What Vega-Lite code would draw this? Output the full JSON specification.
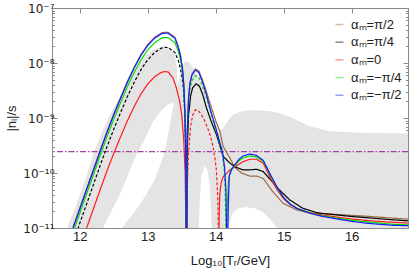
{
"$schema":"https://vega.github.io/schema/vega-lite/v6.json",
"width":356,"height":220,
"autosize":{"type":"none"},
"padding":{"left":52,"top":8,"right":1,"bottom":40},
"config":{"view":{"stroke":"#8a8a8a","strokeWidth":1},"font":"Liberation Sans"},
"datasets":{
"bands":[
{"band":"g1","x":11.81,"lo":1e-11,"hi":1e-11},
{"band":"g1","x":11.93,"lo":1e-11,"hi":2.29e-11},
{"band":"g1","x":12.07,"lo":1e-11,"hi":6.92e-11},
{"band":"g1","x":12.21,"lo":1e-11,"hi":2.40e-10},
{"band":"g1","x":12.34,"lo":1e-11,"hi":6.03e-10},
{"band":"g1","x":12.44,"lo":1.78e-11,"hi":1.12e-9},
{"band":"g1","x":12.59,"lo":4.07e-11,"hi":2.34e-9},
{"band":"g1","x":12.72,"lo":1.00e-10,"hi":4.90e-9},
{"band":"g1","x":12.83,"lo":2.14e-10,"hi":8.32e-9},
{"band":"g1","x":12.95,"lo":3.98e-10,"hi":1.32e-8},
{"band":"g1","x":13.08,"lo":8.71e-10,"hi":1.74e-8},
{"band":"g1","x":13.21,"lo":1.41e-9,"hi":2.00e-8},
{"band":"g1","x":13.29,"lo":1.74e-9,"hi":1.95e-8},
{"band":"g1","x":13.35,"lo":1.86e-9,"hi":1.74e-8},
{"band":"g1","x":13.40,"lo":1.82e-9,"hi":1.35e-8},
{"band":"g1","x":13.43,"lo":1.74e-9,"hi":8.13e-9},
{"band":"g2","x":12.618,"lo":1e-11,"hi":1e-11},
{"band":"g2","x":12.882,"lo":1e-11,"hi":2.63e-11},
{"band":"g2","x":13.103,"lo":1e-11,"hi":7.46e-11},
{"band":"g2","x":13.25,"lo":1e-11,"hi":2.41e-10},
{"band":"g2","x":13.324,"lo":1e-11,"hi":7.46e-10},
{"band":"g2","x":13.368,"lo":1e-11,"hi":1.52e-9},
{"band":"g2","x":13.397,"lo":1e-11,"hi":2.12e-9},
{"band":"g2","x":13.44,"lo":1e-11,"hi":3.98e-9},
{"band":"g2","x":13.485,"lo":1e-11,"hi":6.92e-9},
{"band":"g2","x":13.53,"lo":1e-11,"hi":1.00e-8},
{"band":"g2","x":13.575,"lo":1e-11,"hi":1.10e-8},
{"band":"g3","x":13.565,"lo":1e-11,"hi":1.10e-8},
{"band":"g3","x":13.62,"lo":1e-11,"hi":1.00e-8},
{"band":"g3","x":13.69,"lo":1e-11,"hi":7.41e-9},
{"band":"g3","x":13.75,"lo":1e-11,"hi":5.25e-9},
{"band":"g3","x":13.765,"lo":3.24e-11,"hi":4.90e-9},
{"band":"g3","x":13.79,"lo":9.12e-11,"hi":4.07e-9},
{"band":"g3","x":13.84,"lo":1.35e-10,"hi":2.82e-9},
{"band":"g3","x":13.88,"lo":1.12e-10,"hi":2.04e-9},
{"band":"g3","x":13.91,"lo":6.03e-11,"hi":1.58e-9},
{"band":"g3","x":13.94,"lo":1e-11,"hi":1.26e-9},
{"band":"g3","x":13.985,"lo":1e-11,"hi":9.12e-10},
{"band":"g3","x":14.04,"lo":1e-11,"hi":6.61e-10},
{"band":"g3","x":14.09,"lo":1e-11,"hi":6.03e-10},
{"band":"g3","x":14.15,"lo":1e-11,"hi":7.76e-10},
{"band":"g3","x":14.19,"lo":1e-11,"hi":9.33e-10},
{"band":"g3","x":14.235,"lo":1.74e-11,"hi":1.10e-9},
{"band":"g3","x":14.31,"lo":2.21e-11,"hi":1.23e-9},
{"band":"g3","x":14.35,"lo":2.29e-11,"hi":1.29e-9},
{"band":"g3","x":14.43,"lo":2.40e-11,"hi":1.35e-9},
{"band":"g3","x":14.57,"lo":2.29e-11,"hi":1.40e-9},
{"band":"g3","x":14.69,"lo":1.95e-11,"hi":1.36e-9},
{"band":"g3","x":14.79,"lo":1.51e-11,"hi":1.32e-9},
{"band":"g3","x":14.90,"lo":1e-11,"hi":1.26e-9},
{"band":"g3","x":15.09,"lo":1e-11,"hi":1.05e-9},
{"band":"g3","x":15.38,"lo":1e-11,"hi":7.08e-10},
{"band":"g3","x":15.68,"lo":1e-11,"hi":5.75e-10},
{"band":"g3","x":16.12,"lo":1e-11,"hi":5.37e-10},
{"band":"g3","x":16.83,"lo":1e-11,"hi":5.25e-10}
],
"obs":[{"y":2.45e-10}],
"curves":[
{"c":"αₘ=π/2","s":"N1","d":"solid","x":11.90,"y":1.04e-11},
{"c":"αₘ=π/2","s":"N1","d":"solid","x":12.00,"y":2.32e-11},
{"c":"αₘ=π/2","s":"N1","d":"solid","x":12.10,"y":5.19e-11},
{"c":"αₘ=π/2","s":"N1","d":"solid","x":12.20,"y":1.16e-10},
{"c":"αₘ=π/2","s":"N1","d":"solid","x":12.30,"y":2.60e-10},
{"c":"αₘ=π/2","s":"N1","d":"solid","x":12.40,"y":5.69e-10},
{"c":"αₘ=π/2","s":"N1","d":"solid","x":12.50,"y":1.19e-9},
{"c":"αₘ=π/2","s":"N1","d":"solid","x":12.60,"y":2.37e-9},
{"c":"αₘ=π/2","s":"N1","d":"solid","x":12.70,"y":4.63e-9},
{"c":"αₘ=π/2","s":"N1","d":"solid","x":12.80,"y":8.41e-9},
{"c":"αₘ=π/2","s":"N1","d":"solid","x":12.90,"y":1.43e-8},
{"c":"αₘ=π/2","s":"N1","d":"solid","x":13.00,"y":2.16e-8},
{"c":"αₘ=π/2","s":"N1","d":"solid","x":13.10,"y":2.92e-8},
{"c":"αₘ=π/2","s":"N1","d":"solid","x":13.20,"y":3.51e-8},
{"c":"αₘ=π/2","s":"N1","d":"solid","x":13.25,"y":3.63e-8},
{"c":"αₘ=π/2","s":"N1","d":"solid","x":13.30,"y":3.59e-8},
{"c":"αₘ=π/2","s":"N1","d":"solid","x":13.40,"y":2.92e-8},
{"c":"αₘ=π/2","s":"N1","d":"solid","x":13.45,"y":1.98e-8},
{"c":"αₘ=π/2","s":"N1","d":"solid","x":13.48,"y":1.40e-8},
{"c":"αₘ=π/2","s":"N1","d":"solid","x":13.51,"y":8.22e-9},
{"c":"αₘ=π/2","s":"N1","d":"solid","x":13.53,"y":4.12e-9},
{"c":"αₘ=π/2","s":"N1","d":"solid","x":13.545,"y":1.46e-9},
{"c":"αₘ=π/2","s":"N1","d":"solid","x":13.558,"y":2.60e-10},
{"c":"αₘ=π/2","s":"N1","d":"solid","x":13.566,"y":3.16e-12},
{"c":"αₘ=π/2","s":"N2","d":"solid","x":13.572,"y":3.16e-12},
{"c":"αₘ=π/2","s":"N2","d":"solid","x":13.58,"y":5.25e-10},
{"c":"αₘ=π/2","s":"N2","d":"solid","x":13.60,"y":2.34e-9},
{"c":"αₘ=π/2","s":"N2","d":"solid","x":13.62,"y":4.37e-9},
{"c":"αₘ=π/2","s":"N2","d":"solid","x":13.65,"y":6.31e-9},
{"c":"αₘ=π/2","s":"N2","d":"solid","x":13.70,"y":7.76e-9},
{"c":"αₘ=π/2","s":"N2","d":"solid","x":13.75,"y":7.24e-9},
{"c":"αₘ=π/2","s":"N2","d":"solid","x":13.80,"y":5.13e-9},
{"c":"αₘ=π/2","s":"N2","d":"solid","x":13.85,"y":3.39e-9},
{"c":"αₘ=π/2","s":"N2","d":"solid","x":13.90,"y":2.14e-9},
{"c":"αₘ=π/2","s":"N2","d":"solid","x":13.95,"y":1.38e-9},
{"c":"αₘ=π/2","s":"N2","d":"solid","x":14.00,"y":8.91e-10},
{"c":"αₘ=π/2","s":"N2","d":"solid","x":14.06,"y":5.75e-10},
{"c":"αₘ=π/2","s":"N2","d":"solid","x":14.11,"y":3.02e-10},
{"c":"αₘ=π/2","s":"N2","d":"solid","x":14.21,"y":1.86e-10},
{"c":"αₘ=π/2","s":"N2","d":"solid","x":14.28,"y":1.27e-10},
{"c":"αₘ=π/2","s":"N2","d":"solid","x":14.38,"y":1.00e-10},
{"c":"αₘ=π/2","s":"N2","d":"solid","x":14.50,"y":8.81e-11},
{"c":"αₘ=π/2","s":"N2","d":"solid","x":14.60,"y":8.81e-11},
{"c":"αₘ=π/2","s":"N2","d":"solid","x":14.70,"y":7.94e-11},
{"c":"αₘ=π/2","s":"N2","d":"solid","x":14.84,"y":4.57e-11},
{"c":"αₘ=π/2","s":"N2","d":"solid","x":14.99,"y":2.82e-11},
{"c":"αₘ=π/2","s":"N2","d":"solid","x":15.19,"y":2.14e-11},
{"c":"αₘ=π/2","s":"N2","d":"solid","x":15.38,"y":1.86e-11},
{"c":"αₘ=π/2","s":"N2","d":"solid","x":15.60,"y":1.82e-11},
{"c":"αₘ=π/2","s":"N2","d":"solid","x":15.80,"y":1.76e-11},
{"c":"αₘ=π/2","s":"N2","d":"solid","x":16.00,"y":1.70e-11},
{"c":"αₘ=π/2","s":"N2","d":"solid","x":16.20,"y":1.64e-11},
{"c":"αₘ=π/2","s":"N2","d":"solid","x":16.40,"y":1.58e-11},
{"c":"αₘ=π/2","s":"N2","d":"solid","x":16.60,"y":1.51e-11},
{"c":"αₘ=π/2","s":"N2","d":"solid","x":16.83,"y":1.45e-11},
{"c":"αₘ=π/4","s":"K1","d":"dash","x":11.97,"y":9.55e-12},
{"c":"αₘ=π/4","s":"K1","d":"dash","x":12.00,"y":1.23e-11},
{"c":"αₘ=π/4","s":"K1","d":"dash","x":12.10,"y":2.75e-11},
{"c":"αₘ=π/4","s":"K1","d":"dash","x":12.20,"y":6.17e-11},
{"c":"αₘ=π/4","s":"K1","d":"dash","x":12.30,"y":1.38e-10},
{"c":"αₘ=π/4","s":"K1","d":"dash","x":12.40,"y":3.02e-10},
{"c":"αₘ=π/4","s":"K1","d":"dash","x":12.50,"y":6.31e-10},
{"c":"αₘ=π/4","s":"K1","d":"dash","x":12.60,"y":1.26e-9},
{"c":"αₘ=π/4","s":"K1","d":"dash","x":12.70,"y":2.45e-9},
{"c":"αₘ=π/4","s":"K1","d":"dash","x":12.80,"y":4.47e-9},
{"c":"αₘ=π/4","s":"K1","d":"dash","x":12.90,"y":7.59e-9},
{"c":"αₘ=π/4","s":"K1","d":"dash","x":13.00,"y":1.15e-8},
{"c":"αₘ=π/4","s":"K1","d":"dash","x":13.10,"y":1.55e-8},
{"c":"αₘ=π/4","s":"K1","d":"dash","x":13.20,"y":1.86e-8},
{"c":"αₘ=π/4","s":"K1","d":"dash","x":13.25,"y":1.93e-8},
{"c":"αₘ=π/4","s":"K1","d":"dash","x":13.30,"y":1.91e-8},
{"c":"αₘ=π/4","s":"K1","d":"dash","x":13.40,"y":1.55e-8},
{"c":"αₘ=π/4","s":"K1","d":"dash","x":13.45,"y":1.10e-8},
{"c":"αₘ=π/4","s":"K1","d":"dash","x":13.48,"y":7.94e-9},
{"c":"αₘ=π/4","s":"K1","d":"dash","x":13.51,"y":5.01e-9},
{"c":"αₘ=π/4","s":"K1","d":"dash","x":13.53,"y":2.82e-9},
{"c":"αₘ=π/4","s":"K1","d":"dash","x":13.545,"y":1.12e-9},
{"c":"αₘ=π/4","s":"K1","d":"dash","x":13.558,"y":2.40e-10},
{"c":"αₘ=π/4","s":"K1","d":"dash","x":13.566,"y":3.16e-12},
{"c":"αₘ=π/4","s":"K2","d":"solid","x":13.572,"y":3.16e-12},
{"c":"αₘ=π/4","s":"K2","d":"solid","x":13.58,"y":2.51e-10},
{"c":"αₘ=π/4","s":"K2","d":"solid","x":13.60,"y":1.12e-9},
{"c":"αₘ=π/4","s":"K2","d":"solid","x":13.63,"y":2.51e-9},
{"c":"αₘ=π/4","s":"K2","d":"solid","x":13.66,"y":3.55e-9},
{"c":"αₘ=π/4","s":"K2","d":"solid","x":13.71,"y":4.17e-9},
{"c":"αₘ=π/4","s":"K2","d":"solid","x":13.76,"y":3.80e-9},
{"c":"αₘ=π/4","s":"K2","d":"solid","x":13.81,"y":2.63e-9},
{"c":"αₘ=π/4","s":"K2","d":"solid","x":13.86,"y":1.58e-9},
{"c":"αₘ=π/4","s":"K2","d":"solid","x":13.93,"y":8.91e-10},
{"c":"αₘ=π/4","s":"K2","d":"solid","x":14.01,"y":5.01e-10},
{"c":"αₘ=π/4","s":"K2","d":"solid","x":14.11,"y":2.00e-10},
{"c":"αₘ=π/4","s":"K2","d":"solid","x":14.21,"y":1.51e-10},
{"c":"αₘ=π/4","s":"K2","d":"solid","x":14.28,"y":1.30e-10},
{"c":"αₘ=π/4","s":"K2","d":"solid","x":14.40,"y":1.14e-10},
{"c":"αₘ=π/4","s":"K2","d":"solid","x":14.50,"y":1.14e-10},
{"c":"αₘ=π/4","s":"K2","d":"solid","x":14.60,"y":1.17e-10},
{"c":"αₘ=π/4","s":"K2","d":"solid","x":14.70,"y":1.06e-10},
{"c":"αₘ=π/4","s":"K2","d":"solid","x":14.79,"y":7.94e-11},
{"c":"αₘ=π/4","s":"K2","d":"solid","x":14.94,"y":4.90e-11},
{"c":"αₘ=π/4","s":"K2","d":"solid","x":15.09,"y":3.24e-11},
{"c":"αₘ=π/4","s":"K2","d":"solid","x":15.28,"y":2.29e-11},
{"c":"αₘ=π/4","s":"K2","d":"solid","x":15.48,"y":1.91e-11},
{"c":"αₘ=π/4","s":"K2","d":"solid","x":15.60,"y":1.82e-11},
{"c":"αₘ=π/4","s":"K2","d":"solid","x":15.80,"y":1.72e-11},
{"c":"αₘ=π/4","s":"K2","d":"solid","x":16.00,"y":1.62e-11},
{"c":"αₘ=π/4","s":"K2","d":"solid","x":16.20,"y":1.55e-11},
{"c":"αₘ=π/4","s":"K2","d":"solid","x":16.40,"y":1.48e-11},
{"c":"αₘ=π/4","s":"K2","d":"solid","x":16.60,"y":1.41e-11},
{"c":"αₘ=π/4","s":"K2","d":"solid","x":16.83,"y":1.35e-11},
{"c":"αₘ=0","s":"R1","d":"solid","x":12.10,"y":1.00e-11},
{"c":"αₘ=0","s":"R1","d":"solid","x":12.20,"y":2.24e-11},
{"c":"αₘ=0","s":"R1","d":"solid","x":12.30,"y":5.01e-11},
{"c":"αₘ=0","s":"R1","d":"solid","x":12.40,"y":1.10e-10},
{"c":"αₘ=0","s":"R1","d":"solid","x":12.50,"y":2.29e-10},
{"c":"αₘ=0","s":"R1","d":"solid","x":12.60,"y":4.57e-10},
{"c":"αₘ=0","s":"R1","d":"solid","x":12.70,"y":8.91e-10},
{"c":"αₘ=0","s":"R1","d":"solid","x":12.80,"y":1.62e-9},
{"c":"αₘ=0","s":"R1","d":"solid","x":12.90,"y":2.75e-9},
{"c":"αₘ=0","s":"R1","d":"solid","x":13.00,"y":4.17e-9},
{"c":"αₘ=0","s":"R1","d":"solid","x":13.10,"y":5.62e-9},
{"c":"αₘ=0","s":"R1","d":"solid","x":13.20,"y":6.76e-9},
{"c":"αₘ=0","s":"R1","d":"solid","x":13.25,"y":7.00e-9},
{"c":"αₘ=0","s":"R1","d":"solid","x":13.30,"y":6.84e-9},
{"c":"αₘ=0","s":"R1","d":"solid","x":13.37,"y":5.37e-9},
{"c":"αₘ=0","s":"R1","d":"solid","x":13.42,"y":3.55e-9},
{"c":"αₘ=0","s":"R1","d":"solid","x":13.47,"y":2.00e-9},
{"c":"αₘ=0","s":"R1","d":"solid","x":13.50,"y":1.12e-9},
{"c":"αₘ=0","s":"R1","d":"solid","x":13.53,"y":3.80e-10},
{"c":"αₘ=0","s":"R1","d":"solid","x":13.55,"y":1.00e-10},
{"c":"αₘ=0","s":"R1","d":"solid","x":13.566,"y":3.16e-12},
{"c":"αₘ=0","s":"R2","d":"dash","x":13.572,"y":3.16e-12},
{"c":"αₘ=0","s":"R2","d":"dash","x":13.58,"y":5.01e-11},
{"c":"αₘ=0","s":"R2","d":"dash","x":13.60,"y":2.51e-10},
{"c":"αₘ=0","s":"R2","d":"dash","x":13.63,"y":7.08e-10},
{"c":"αₘ=0","s":"R2","d":"dash","x":13.66,"y":1.12e-9},
{"c":"αₘ=0","s":"R2","d":"dash","x":13.70,"y":1.41e-9},
{"c":"αₘ=0","s":"R2","d":"dash","x":13.74,"y":1.38e-9},
{"c":"αₘ=0","s":"R2","d":"dash","x":13.78,"y":1.20e-9},
{"c":"αₘ=0","s":"R2","d":"dash","x":13.83,"y":9.33e-10},
{"c":"αₘ=0","s":"R2","d":"dash","x":13.88,"y":6.61e-10},
{"c":"αₘ=0","s":"R2","d":"dash","x":13.92,"y":4.79e-10},
{"c":"αₘ=0","s":"R2","d":"dash","x":13.96,"y":3.02e-10},
{"c":"αₘ=0","s":"R2","d":"dash","x":13.99,"y":1.78e-10},
{"c":"αₘ=0","s":"R2","d":"dash","x":14.01,"y":1.12e-10},
{"c":"αₘ=0","s":"R2","d":"dash","x":14.03,"y":3.55e-11},
{"c":"αₘ=0","s":"R2","d":"dash","x":14.045,"y":3.16e-12},
{"c":"αₘ=0","s":"R3","d":"solid","x":14.045,"y":3.16e-12},
{"c":"αₘ=0","s":"R3","d":"solid","x":14.05,"y":1.58e-11},
{"c":"αₘ=0","s":"R3","d":"solid","x":14.06,"y":4.27e-11},
{"c":"αₘ=0","s":"R3","d":"solid","x":14.08,"y":6.61e-11},
{"c":"αₘ=0","s":"R3","d":"solid","x":14.11,"y":8.51e-11},
{"c":"αₘ=0","s":"R3","d":"solid","x":14.21,"y":1.14e-10},
{"c":"αₘ=0","s":"R3","d":"solid","x":14.28,"y":1.30e-10},
{"c":"αₘ=0","s":"R3","d":"solid","x":14.40,"y":1.60e-10},
{"c":"αₘ=0","s":"R3","d":"solid","x":14.50,"y":1.78e-10},
{"c":"αₘ=0","s":"R3","d":"solid","x":14.60,"y":1.78e-10},
{"c":"αₘ=0","s":"R3","d":"solid","x":14.70,"y":1.51e-10},
{"c":"αₘ=0","s":"R3","d":"solid","x":14.80,"y":8.32e-11},
{"c":"αₘ=0","s":"R3","d":"solid","x":14.90,"y":5.01e-11},
{"c":"αₘ=0","s":"R3","d":"solid","x":15.00,"y":3.39e-11},
{"c":"αₘ=0","s":"R3","d":"solid","x":15.10,"y":2.63e-11},
{"c":"αₘ=0","s":"R3","d":"solid","x":15.20,"y":2.26e-11},
{"c":"αₘ=0","s":"R3","d":"solid","x":15.30,"y":2.04e-11},
{"c":"αₘ=0","s":"R3","d":"solid","x":15.40,"y":1.88e-11},
{"c":"αₘ=0","s":"R3","d":"solid","x":15.50,"y":1.78e-11},
{"c":"αₘ=0","s":"R3","d":"solid","x":15.60,"y":1.70e-11},
{"c":"αₘ=0","s":"R3","d":"solid","x":15.80,"y":1.57e-11},
{"c":"αₘ=0","s":"R3","d":"solid","x":16.00,"y":1.46e-11},
{"c":"αₘ=0","s":"R3","d":"solid","x":16.20,"y":1.38e-11},
{"c":"αₘ=0","s":"R3","d":"solid","x":16.40,"y":1.32e-11},
{"c":"αₘ=0","s":"R3","d":"solid","x":16.60,"y":1.27e-11},
{"c":"αₘ=0","s":"R3","d":"solid","x":16.83,"y":1.23e-11},
{"c":"αₘ=−π/4","s":"G1","d":"solid","x":11.90,"y":8.32e-12},
{"c":"αₘ=−π/4","s":"G1","d":"solid","x":12.00,"y":1.86e-11},
{"c":"αₘ=−π/4","s":"G1","d":"solid","x":12.10,"y":4.17e-11},
{"c":"αₘ=−π/4","s":"G1","d":"solid","x":12.20,"y":9.33e-11},
{"c":"αₘ=−π/4","s":"G1","d":"solid","x":12.30,"y":2.09e-10},
{"c":"αₘ=−π/4","s":"G1","d":"solid","x":12.40,"y":4.57e-10},
{"c":"αₘ=−π/4","s":"G1","d":"solid","x":12.50,"y":9.55e-10},
{"c":"αₘ=−π/4","s":"G1","d":"solid","x":12.60,"y":1.91e-9},
{"c":"αₘ=−π/4","s":"G1","d":"solid","x":12.70,"y":3.72e-9},
{"c":"αₘ=−π/4","s":"G1","d":"solid","x":12.80,"y":6.76e-9},
{"c":"αₘ=−π/4","s":"G1","d":"solid","x":12.90,"y":1.15e-8},
{"c":"αₘ=−π/4","s":"G1","d":"solid","x":13.00,"y":1.74e-8},
{"c":"αₘ=−π/4","s":"G1","d":"solid","x":13.10,"y":2.34e-8},
{"c":"αₘ=−π/4","s":"G1","d":"solid","x":13.20,"y":2.82e-8},
{"c":"αₘ=−π/4","s":"G1","d":"solid","x":13.25,"y":2.92e-8},
{"c":"αₘ=−π/4","s":"G1","d":"solid","x":13.30,"y":2.88e-8},
{"c":"αₘ=−π/4","s":"G1","d":"solid","x":13.40,"y":2.34e-8},
{"c":"αₘ=−π/4","s":"G1","d":"solid","x":13.45,"y":1.62e-8},
{"c":"αₘ=−π/4","s":"G1","d":"solid","x":13.48,"y":1.17e-8},
{"c":"αₘ=−π/4","s":"G1","d":"solid","x":13.51,"y":7.08e-9},
{"c":"αₘ=−π/4","s":"G1","d":"solid","x":13.53,"y":3.63e-9},
{"c":"αₘ=−π/4","s":"G1","d":"solid","x":13.545,"y":1.32e-9},
{"c":"αₘ=−π/4","s":"G1","d":"solid","x":13.558,"y":2.40e-10},
{"c":"αₘ=−π/4","s":"G1","d":"solid","x":13.566,"y":3.16e-12},
{"c":"αₘ=−π/4","s":"G2","d":"dash","x":13.572,"y":3.16e-12},
{"c":"αₘ=−π/4","s":"G2","d":"dash","x":13.58,"y":3.98e-10},
{"c":"αₘ=−π/4","s":"G2","d":"dash","x":13.60,"y":1.74e-9},
{"c":"αₘ=−π/4","s":"G2","d":"dash","x":13.62,"y":3.24e-9},
{"c":"αₘ=−π/4","s":"G2","d":"dash","x":13.65,"y":4.79e-9},
{"c":"αₘ=−π/4","s":"G2","d":"dash","x":13.70,"y":5.89e-9},
{"c":"αₘ=−π/4","s":"G2","d":"dash","x":13.75,"y":5.50e-9},
{"c":"αₘ=−π/4","s":"G2","d":"dash","x":13.80,"y":3.98e-9},
{"c":"αₘ=−π/4","s":"G2","d":"dash","x":13.85,"y":2.69e-9},
{"c":"αₘ=−π/4","s":"G2","d":"dash","x":13.90,"y":1.66e-9},
{"c":"αₘ=−π/4","s":"G2","d":"dash","x":13.95,"y":1.00e-9},
{"c":"αₘ=−π/4","s":"G2","d":"dash","x":14.00,"y":6.17e-10},
{"c":"αₘ=−π/4","s":"G2","d":"dash","x":14.05,"y":3.72e-10},
{"c":"αₘ=−π/4","s":"G2","d":"dash","x":14.10,"y":2.14e-10},
{"c":"αₘ=−π/4","s":"G2","d":"dash","x":14.125,"y":1.12e-10},
{"c":"αₘ=−π/4","s":"G2","d":"dash","x":14.14,"y":4.47e-11},
{"c":"αₘ=−π/4","s":"G2","d":"dash","x":14.155,"y":3.16e-12},
{"c":"αₘ=−π/4","s":"G3","d":"solid","x":14.16,"y":3.16e-12},
{"c":"αₘ=−π/4","s":"G3","d":"solid","x":14.17,"y":2.51e-11},
{"c":"αₘ=−π/4","s":"G3","d":"solid","x":14.19,"y":7.94e-11},
{"c":"αₘ=−π/4","s":"G3","d":"solid","x":14.22,"y":1.12e-10},
{"c":"αₘ=−π/4","s":"G3","d":"solid","x":14.28,"y":1.35e-10},
{"c":"αₘ=−π/4","s":"G3","d":"solid","x":14.35,"y":1.70e-10},
{"c":"αₘ=−π/4","s":"G3","d":"solid","x":14.40,"y":1.88e-10},
{"c":"αₘ=−π/4","s":"G3","d":"solid","x":14.50,"y":2.04e-10},
{"c":"αₘ=−π/4","s":"G3","d":"solid","x":14.60,"y":1.95e-10},
{"c":"αₘ=−π/4","s":"G3","d":"solid","x":14.70,"y":1.62e-10},
{"c":"αₘ=−π/4","s":"G3","d":"solid","x":14.80,"y":9.33e-11},
{"c":"αₘ=−π/4","s":"G3","d":"solid","x":14.90,"y":5.50e-11},
{"c":"αₘ=−π/4","s":"G3","d":"solid","x":15.00,"y":3.55e-11},
{"c":"αₘ=−π/4","s":"G3","d":"solid","x":15.10,"y":2.69e-11},
{"c":"αₘ=−π/4","s":"G3","d":"solid","x":15.20,"y":2.26e-11},
{"c":"αₘ=−π/4","s":"G3","d":"solid","x":15.30,"y":2.04e-11},
{"c":"αₘ=−π/4","s":"G3","d":"solid","x":15.40,"y":1.86e-11},
{"c":"αₘ=−π/4","s":"G3","d":"solid","x":15.50,"y":1.72e-11},
{"c":"αₘ=−π/4","s":"G3","d":"solid","x":15.60,"y":1.64e-11},
{"c":"αₘ=−π/4","s":"G3","d":"solid","x":15.80,"y":1.50e-11},
{"c":"αₘ=−π/4","s":"G3","d":"solid","x":16.00,"y":1.38e-11},
{"c":"αₘ=−π/4","s":"G3","d":"solid","x":16.20,"y":1.30e-11},
{"c":"αₘ=−π/4","s":"G3","d":"solid","x":16.40,"y":1.23e-11},
{"c":"αₘ=−π/4","s":"G3","d":"solid","x":16.60,"y":1.17e-11},
{"c":"αₘ=−π/4","s":"G3","d":"solid","x":16.83,"y":1.14e-11},
{"c":"αₘ=−π/2","s":"B1","d":"solid","x":11.90,"y":1.00e-11},
{"c":"αₘ=−π/2","s":"B1","d":"solid","x":12.00,"y":2.24e-11},
{"c":"αₘ=−π/2","s":"B1","d":"solid","x":12.10,"y":5.01e-11},
{"c":"αₘ=−π/2","s":"B1","d":"solid","x":12.20,"y":1.12e-10},
{"c":"αₘ=−π/2","s":"B1","d":"solid","x":12.30,"y":2.51e-10},
{"c":"αₘ=−π/2","s":"B1","d":"solid","x":12.40,"y":5.50e-10},
{"c":"αₘ=−π/2","s":"B1","d":"solid","x":12.50,"y":1.15e-9},
{"c":"αₘ=−π/2","s":"B1","d":"solid","x":12.60,"y":2.29e-9},
{"c":"αₘ=−π/2","s":"B1","d":"solid","x":12.70,"y":4.47e-9},
{"c":"αₘ=−π/2","s":"B1","d":"solid","x":12.80,"y":8.13e-9},
{"c":"αₘ=−π/2","s":"B1","d":"solid","x":12.90,"y":1.38e-8},
{"c":"αₘ=−π/2","s":"B1","d":"solid","x":13.00,"y":2.09e-8},
{"c":"αₘ=−π/2","s":"B1","d":"solid","x":13.10,"y":2.82e-8},
{"c":"αₘ=−π/2","s":"B1","d":"solid","x":13.20,"y":3.39e-8},
{"c":"αₘ=−π/2","s":"B1","d":"solid","x":13.25,"y":3.51e-8},
{"c":"αₘ=−π/2","s":"B1","d":"solid","x":13.30,"y":3.47e-8},
{"c":"αₘ=−π/2","s":"B1","d":"solid","x":13.40,"y":2.82e-8},
{"c":"αₘ=−π/2","s":"B1","d":"solid","x":13.45,"y":1.91e-8},
{"c":"αₘ=−π/2","s":"B1","d":"solid","x":13.48,"y":1.35e-8},
{"c":"αₘ=−π/2","s":"B1","d":"solid","x":13.51,"y":7.94e-9},
{"c":"αₘ=−π/2","s":"B1","d":"solid","x":13.53,"y":3.98e-9},
{"c":"αₘ=−π/2","s":"B1","d":"solid","x":13.545,"y":1.41e-9},
{"c":"αₘ=−π/2","s":"B1","d":"solid","x":13.558,"y":2.51e-10},
{"c":"αₘ=−π/2","s":"B1","d":"solid","x":13.566,"y":3.16e-12},
{"c":"αₘ=−π/2","s":"B2","d":"solid","x":13.572,"y":3.16e-12},
{"c":"αₘ=−π/2","s":"B2","d":"solid","x":13.58,"y":5.01e-10},
{"c":"αₘ=−π/2","s":"B2","d":"solid","x":13.60,"y":2.24e-9},
{"c":"αₘ=−π/2","s":"B2","d":"solid","x":13.62,"y":4.17e-9},
{"c":"αₘ=−π/2","s":"B2","d":"solid","x":13.65,"y":6.03e-9},
{"c":"αₘ=−π/2","s":"B2","d":"solid","x":13.70,"y":7.41e-9},
{"c":"αₘ=−π/2","s":"B2","d":"solid","x":13.75,"y":6.76e-9},
{"c":"αₘ=−π/2","s":"B2","d":"solid","x":13.80,"y":4.68e-9},
{"c":"αₘ=−π/2","s":"B2","d":"solid","x":13.85,"y":3.02e-9},
{"c":"αₘ=−π/2","s":"B2","d":"solid","x":13.90,"y":1.78e-9},
{"c":"αₘ=−π/2","s":"B2","d":"solid","x":13.95,"y":1.07e-9},
{"c":"αₘ=−π/2","s":"B2","d":"solid","x":14.00,"y":6.61e-10},
{"c":"αₘ=−π/2","s":"B2","d":"solid","x":14.05,"y":3.98e-10},
{"c":"αₘ=−π/2","s":"B2","d":"solid","x":14.10,"y":2.40e-10},
{"c":"αₘ=−π/2","s":"B2","d":"solid","x":14.13,"y":1.26e-10},
{"c":"αₘ=−π/2","s":"B2","d":"solid","x":14.15,"y":5.01e-11},
{"c":"αₘ=−π/2","s":"B2","d":"solid","x":14.165,"y":3.16e-12},
{"c":"αₘ=−π/2","s":"B3","d":"solid","x":14.172,"y":3.16e-12},
{"c":"αₘ=−π/2","s":"B3","d":"solid","x":14.185,"y":2.51e-11},
{"c":"αₘ=−π/2","s":"B3","d":"solid","x":14.20,"y":8.91e-11},
{"c":"αₘ=−π/2","s":"B3","d":"solid","x":14.24,"y":1.20e-10},
{"c":"αₘ=−π/2","s":"B3","d":"solid","x":14.28,"y":1.41e-10},
{"c":"αₘ=−π/2","s":"B3","d":"solid","x":14.35,"y":1.82e-10},
{"c":"αₘ=−π/2","s":"B3","d":"solid","x":14.40,"y":2.04e-10},
{"c":"αₘ=−π/2","s":"B3","d":"solid","x":14.50,"y":2.21e-10},
{"c":"αₘ=−π/2","s":"B3","d":"solid","x":14.60,"y":2.09e-10},
{"c":"αₘ=−π/2","s":"B3","d":"solid","x":14.70,"y":1.70e-10},
{"c":"αₘ=−π/2","s":"B3","d":"solid","x":14.80,"y":9.55e-11},
{"c":"αₘ=−π/2","s":"B3","d":"solid","x":14.90,"y":5.62e-11},
{"c":"αₘ=−π/2","s":"B3","d":"solid","x":15.00,"y":3.55e-11},
{"c":"αₘ=−π/2","s":"B3","d":"solid","x":15.10,"y":2.69e-11},
{"c":"αₘ=−π/2","s":"B3","d":"solid","x":15.20,"y":2.26e-11},
{"c":"αₘ=−π/2","s":"B3","d":"solid","x":15.30,"y":2.04e-11},
{"c":"αₘ=−π/2","s":"B3","d":"solid","x":15.40,"y":1.84e-11},
{"c":"αₘ=−π/2","s":"B3","d":"solid","x":15.50,"y":1.70e-11},
{"c":"αₘ=−π/2","s":"B3","d":"solid","x":15.60,"y":1.60e-11},
{"c":"αₘ=−π/2","s":"B3","d":"solid","x":15.80,"y":1.45e-11},
{"c":"αₘ=−π/2","s":"B3","d":"solid","x":16.00,"y":1.32e-11},
{"c":"αₘ=−π/2","s":"B3","d":"solid","x":16.20,"y":1.23e-11},
{"c":"αₘ=−π/2","s":"B3","d":"solid","x":16.40,"y":1.17e-11},
{"c":"αₘ=−π/2","s":"B3","d":"solid","x":16.60,"y":1.12e-11},
{"c":"αₘ=−π/2","s":"B3","d":"solid","x":16.83,"y":1.10e-11}
]
},
"resolve":{"axis":{"x":"independent","y":"independent"}},
"layer":[
{"data":{"name":"bands"},
 "mark":{"type":"area","color":"#e4e4e4","clip":true},
 "encoding":{
  "x":{"field":"x","type":"quantitative","scale":{"domain":[11.59,16.83],"nice":false,"zero":false},
   "axis":{"orient":"bottom","values":[12,13,14,15,16],"format":"d","grid":false,"domain":false,"tickSize":-5,"tickColor":"#8a8a8a","labelFontSize":13,"labelColor":"#222","labelPadding":7,"title":"Log₁₀[Tᵣ/GeV]","titleFontSize":13,"titleFontWeight":"normal","titleColor":"#222","titlePadding":11}},
  "y":{"field":"hi","type":"quantitative","scale":{"type":"log","domain":[1e-11,1e-7],"nice":false},
   "axis":{"orient":"left","grid":false,"domain":false,
    "values":[1e-11,2e-11,3e-11,4e-11,5e-11,6e-11,7e-11,8e-11,9e-11,1e-10,2e-10,3e-10,4e-10,5e-10,6e-10,7e-10,8e-10,9e-10,1e-9,2e-9,3e-9,4e-9,5e-9,6e-9,7e-9,8e-9,9e-9,1e-8,2e-8,3e-8,4e-8,5e-8,6e-8,7e-8,8e-8,9e-8,1e-7],
    "tickSize":{"condition":{"test":"abs(log(datum.value)/LN10 - round(log(datum.value)/LN10)) < 0.001","value":-5},"value":-2.5},
    "tickColor":"#8a8a8a",
    "labelExpr":"abs(log(datum.value)/LN10 - round(log(datum.value)/LN10)) < 0.001 ? (round(log(datum.value)/LN10) == -7 ? '10⁻⁷' : round(log(datum.value)/LN10) == -8 ? '10⁻⁸' : round(log(datum.value)/LN10) == -9 ? '10⁻⁹' : round(log(datum.value)/LN10) == -10 ? '10⁻¹⁰' : '10⁻¹¹') : ''",
    "labelFont":"DejaVu Sans","labelFontSize":12,"labelColor":"#222","labelPadding":3,
    "title":"|nₗ|/s","titleFontSize":13,"titleFontWeight":"normal","titleColor":"#222","titlePadding":4}},
  "y2":{"field":"lo"},
  "detail":{"field":"band"}}},
{"data":{"name":"obs"},
 "mark":{"type":"rule","color":"#a040a8","strokeWidth":1.4,"strokeDash":[6,2,1.5,2]},
 "encoding":{"y":{"field":"y","type":"quantitative","scale":{"type":"log","domain":[1e-11,1e-7],"nice":false},"axis":null}}},
{"data":{"name":"curves"},
 "mark":{"type":"line","clip":true,"strokeWidth":1.2},
 "encoding":{
  "x":{"field":"x","type":"quantitative","scale":{"domain":[11.59,16.83],"nice":false,"zero":false},"axis":null},
  "y":{"field":"y","type":"quantitative","scale":{"type":"log","domain":[1e-11,1e-7],"nice":false},"axis":null},
  "color":{"field":"c","type":"nominal","scale":{"domain":["αₘ=π/2","αₘ=π/4","αₘ=0","αₘ=−π/4","αₘ=−π/2"],"range":["#9c6b45","#000000","#ff1a1a","#00dd00","#1a1aff"]},
   "legend":{"orient":"none","legendX":281,"legendY":10,"title":null,"symbolType":"stroke","symbolSize":64,"symbolStrokeWidth":1.5,"labelFontSize":13,"labelColor":"#222","labelOffset":5,"rowPadding":3.7,"padding":0,
    "encode":{"symbols":{"update":{"opacity":{"value":0.45}}}}}},
  "strokeDash":{"field":"d","type":"nominal","scale":{"domain":["solid","dash"],"range":[[1,0],[3,2]]},"legend":null},
  "detail":{"field":"s"}}},
{"data":{"name":"obs"},
 "mark":{"type":"point","opacity":0},
 "encoding":{
  "x":{"datum":14,"type":"quantitative","scale":{"domain":[11.59,16.83],"nice":false,"zero":false},
   "axis":{"orient":"top","values":[12,13,14,15,16],"labels":false,"grid":false,"domain":false,"tickSize":-5,"tickColor":"#8a8a8a","title":null}},
  "y":{"field":"y","type":"quantitative","scale":{"type":"log","domain":[1e-11,1e-7],"nice":false},
   "axis":{"orient":"right","grid":false,"domain":false,"labels":false,"title":null,
    "values":[1e-11,2e-11,3e-11,4e-11,5e-11,6e-11,7e-11,8e-11,9e-11,1e-10,2e-10,3e-10,4e-10,5e-10,6e-10,7e-10,8e-10,9e-10,1e-9,2e-9,3e-9,4e-9,5e-9,6e-9,7e-9,8e-9,9e-9,1e-8,2e-8,3e-8,4e-8,5e-8,6e-8,7e-8,8e-8,9e-8,1e-7],
    "tickSize":{"condition":{"test":"abs(log(datum.value)/LN10 - round(log(datum.value)/LN10)) < 0.001","value":-5},"value":-2.5},
    "tickColor":"#8a8a8a"}}}}
]
}
